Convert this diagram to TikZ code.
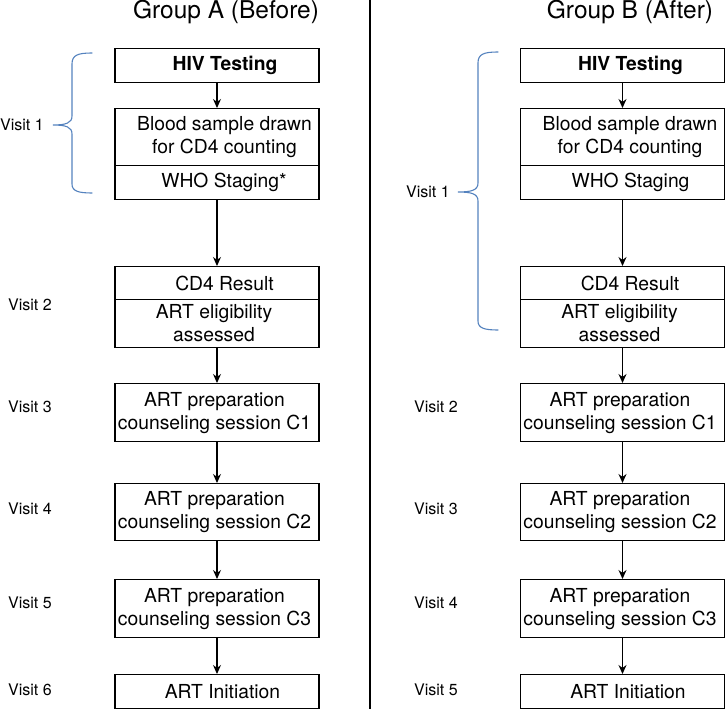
\documentclass[tikz,border=0pt]{standalone}
\usepackage{fontspec}
\setmainfont{TeX Gyre Heros}
\usetikzlibrary{arrows.meta}
\definecolor{bracecol}{RGB}{84,130,190}
\begin{document}
\begin{tikzpicture}[x=1pt,y=-1pt,
 box/.style={draw, line width=1.2pt, minimum width=204pt, inner sep=0pt, anchor=north},
 txt/.style={font=\fontsize{19.3}{23}\selectfont, align=center, inner sep=0pt},
 vis/.style={font=\fontsize{16}{19}\selectfont, anchor=west, inner sep=0pt},
 ttl/.style={font=\fontsize{24.5}{29}\selectfont, anchor=base, inner sep=0pt},
 arr/.style={-{Stealth[length=9pt,width=8pt]}, line width=1.2pt},
 brc/.style={draw=bracecol, line width=1.1pt, line cap=round}]
\useasboundingbox (0,0) rectangle (726,709);
% titles
\node[ttl] (tA) at (226,18.5) {Group A (Before)};
\node[ttl] (tB) at (630,18.5) {Group B (After)};
% divider
\coordinate (dtop) at (370,0);
\coordinate (dbot) at (370,709);
\draw[line width=2.2pt] (dtop) -- (dbot);
% boxes
\foreach \c/\cx in {A/217,B/622.5}{
 \node[box, minimum height=34pt] (hiv\c) at (\cx,48) {};
 \node[box, minimum height=57pt] (blood\c) at (\cx,108) {};
 \node[box, minimum height=34pt] (who\c) at (\cx,165) {};
 \node[box, minimum height=33pt] (cdr\c) at (\cx,266) {};
 \node[box, minimum height=48pt] (elig\c) at (\cx,299) {};
 \node[box, minimum height=58pt] (ca\c) at (\cx,383) {};
 \node[box, minimum height=57pt] (cb\c) at (\cx,483) {};
 \node[box, minimum height=58pt] (cc\c) at (\cx,579) {};
 \node[box, minimum height=34pt] (init\c) at (\cx,674) {};
 \node[txt, font=\fontsize{19.3}{23}\selectfont\bfseries] (hivt\c) at ([xshift=8pt]hiv\c.center) {HIV Testing};
 \node[txt] (bloodt\c) at ([xshift=7.5pt]blood\c.center) {Blood sample drawn\\for CD4 counting};
 \node[txt] (cdrt\c) at ([xshift=7.5pt]cdr\c.center) {CD4 Result};
 \node[txt] (eligt\c) at ([xshift=-3pt]elig\c.center) {ART eligibility\\assessed};
 \node[txt] (cat\c) at ([xshift=-2.5pt]ca\c.center) {ART preparation\\counseling session C1};
 \node[txt] (cbt\c) at ([xshift=-2.5pt]cb\c.center) {ART preparation\\counseling session C2};
 \node[txt] (cct\c) at ([xshift=-2.5pt]cc\c.center) {ART preparation\\counseling session C3};
 \node[txt] (initt\c) at ([xshift=5.5pt]init\c.center) {ART Initiation};
 \draw[arr] (hiv\c) -- (blood\c);
 \draw[arr] (who\c) -- (cdr\c);
 \draw[arr] (elig\c) -- (ca\c);
 \draw[arr] (ca\c) -- (cb\c);
 \draw[arr] (cb\c) -- (cc\c);
 \draw[arr] (cc\c) -- (init\c);
}
\node[txt] (whotA) at ([xshift=7pt]whoA.center) {WHO Staging*};
\node[txt] (whotB) at ([xshift=8pt]whoB.center) {WHO Staging};
% visit labels left
\node[vis] (vA1) at (0,125) {Visit 1};
\node[vis] (vA2) at (8,305) {Visit 2};
\node[vis] (vA3) at (8,407) {Visit 3};
\node[vis] (vA4) at (8,509) {Visit 4};
\node[vis] (vA5) at (8,603) {Visit 5};
\node[vis] (vA6) at (8,690) {Visit 6};
% visit labels right
\node[vis] (vB1) at (406,192) {Visit 1};
\node[vis] (vB2) at (414,407) {Visit 2};
\node[vis] (vB3) at (414,509) {Visit 3};
\node[vis] (vB4) at (414,603) {Visit 4};
\node[vis] (vB5) at (414,690) {Visit 5};
% braces
\coordinate (bAt) at (92,53);
\coordinate (bAm) at (53,125);
\coordinate (bAb) at (92,193);
\draw[brc] (bAt) .. controls (78,53) and (72,55) .. (72,64) -- (72,116)
  .. controls (72,123) and (66,125) .. (bAm)
  .. controls (66,125) and (72,127) .. (72,134) -- (72,184)
  .. controls (72,191) and (78,193) .. (bAb);
\coordinate (bBt) at (498,52);
\coordinate (bBm) at (458,192);
\coordinate (bBb) at (498,330);
\draw[brc] (bBt) .. controls (484,52) and (478,54) .. (478,63) -- (478,183)
  .. controls (478,190) and (472,192) .. (bBm)
  .. controls (472,192) and (478,194) .. (478,201) -- (478,321)
  .. controls (478,328) and (484,330) .. (bBb);
\end{tikzpicture}
\end{document}
